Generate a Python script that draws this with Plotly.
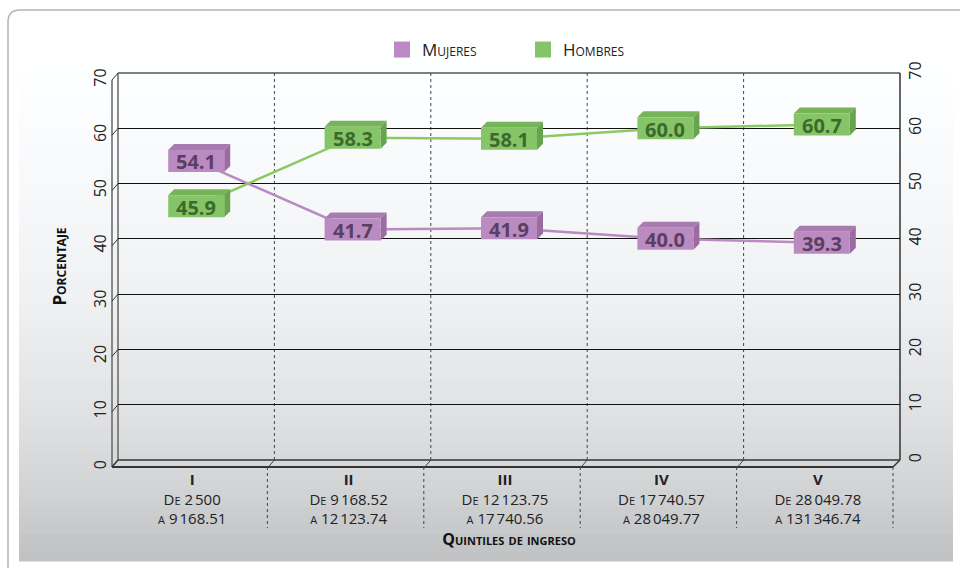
import numpy as np
import plotly.graph_objects as go

# Data
quintiles = ["I", "II", "III", "IV", "V"]
rango_de = ["2\u202f500", "9\u202f168.52", "12\u202f123.75", "17\u202f740.57", "28\u202f049.78"]
rango_a = ["9\u202f168.51", "12\u202f123.74", "17\u202f740.56", "28\u202f049.77", "131\u202f346.74"]
mujeres = [54.1, 41.7, 41.9, 40.0, 39.3]
hombres = [45.9, 58.3, 58.1, 60.0, 60.7]
y_ticks = [0, 10, 20, 30, 40, 50, 60, 70]

# Colours (face, top, side, text, line)
colors = {
    "Mujeres": dict(face="#b98bc0", top="#a97cb1", side="#9a6ca1", text="#5b3e61", line="#b98bc0"),
    "Hombres": dict(face="#86c567", top="#76b459", side="#68a44e", text="#3b6a2c", line="#8cc964"),
}

W, H = 960, 568
L, R, T, B = 118, 900, 73, 460  # back wall in pixels
FONT = "Open Sans"


def px(X):
    return (X - L) / (R - L)


def py(Y):
    return (B - Y) / (B - T)


x_idx = list(range(len(quintiles)))
ticktext = [f"<b>{q}</b><br>De {d}<br>a {a}" for q, d, a in zip(quintiles, rango_de, rango_a)]

fig = go.Figure()
for name, vals in [("Mujeres", mujeres), ("Hombres", hombres)]:
    c = colors[name]
    fig.add_trace(go.Scatter(
        x=x_idx, y=vals, mode="lines", name=name, showlegend=False,
        line=dict(color=c["line"], width=2.5), hoverinfo="skip",
    ))
    # legend entry
    fig.add_trace(go.Scatter(
        x=[None], y=[None], mode="markers", name=name,
        marker=dict(symbol="square", size=16, color=c["face"]),
    ))
# dummy trace on right axis so it renders
fig.add_trace(go.Scatter(x=[None], y=[None], yaxis="y2", showlegend=False))

shapes = []
annotations = []

# background gradient card
stops_y = [10, 60, 200, 300, 400, 480, 561]
stops_v = [255, 255, 247, 240, 227, 213, 192]
edges = np.linspace(20, 561, 61)
for y0, y1 in zip(edges[:-1], edges[1:]):
    v = int(np.interp((y0 + y1) / 2, stops_y, stops_v))
    shapes.append(dict(type="rect", xref="paper", yref="paper", layer="below",
                       x0=px(19), x1=px(953), y0=py(y0), y1=py(y1 + 0.6),
                       fillcolor=f"rgb({v},{v+1},{min(v+3,255)})", line=dict(width=0)))
# card border with rounded corner
shapes.append(dict(type="path", xref="paper", yref="paper", layer="below",
                   path=f"M {px(8)},{py(568)} L {px(8)},{py(22)} Q {px(8)},{py(10)} {px(20)},{py(10)} L {px(960)},{py(10)}",
                   line=dict(color="#b4b4b4", width=1.5)))

# 3D frame
dark = "#333333"
frame = [
    ((118, 73), (900, 73), "#555555", 1.5),
    ((900, 73), (900, 460), dark, 1.5),
    ((118, 73), (118, 460), "#666666", 1.5),
    ((112, 80), (112, 467), "#666666", 1.5),
    ((118, 460), (900, 460), dark, 1.5),
    ((112, 467), (893, 467), dark, 2),
    ((893, 467), (900, 460), dark, 1.5),
    ((112, 467), (118, 460), dark, 1.5),
]
for (xa, ya), (xb, yb), col, w in frame:
    shapes.append(dict(type="line", xref="paper", yref="paper", layer="below",
                       x0=px(xa), y0=py(ya), x1=px(xb), y1=py(yb), line=dict(color=col, width=w)))
# left wall diagonal ticks
for t in y_ticks[1:]:
    shapes.append(dict(type="line", xref="paper", yref="y", ysizemode="pixel", yanchor=t,
                       x0=px(112), x1=px(118), y0=-7, y1=0, layer="below",
                       line=dict(color=dark, width=1)))
# category separators
for k in range(len(quintiles) + 1):
    xb = k - 0.5
    if 0 < k < len(quintiles):
        shapes.append(dict(type="line", xref="x", yref="paper", x0=xb, x1=xb, y0=0, y1=1,
                           layer="below", line=dict(color="#444444", width=1, dash="dot")))
        shapes.append(dict(type="line", xref="x", yref="paper", xsizemode="pixel", xanchor=xb,
                           x0=-6, x1=0, y0=py(467), y1=0, layer="below",
                           line=dict(color="#444444", width=1)))
    shapes.append(dict(type="line", xref="x", yref="paper", xsizemode="pixel", xanchor=xb,
                       x0=-7, x1=-7, y0=py(467), y1=py(528),
                       layer="below", line=dict(color="#444444", width=1, dash="dot")))

# 3D label boxes
hw, hh, d = 28, 11, 6
for name, vals in [("Mujeres", mujeres), ("Hombres", hombres)]:
    c = colors[name]
    for i, v in enumerate(vals):
        common = dict(type="path", xref="x", yref="y", xsizemode="pixel", ysizemode="pixel",
                      xanchor=i, yanchor=v, layer="above", line=dict(width=0))
        shapes.append(dict(common, fillcolor=c["top"],
                           path=f"M {-hw},{hh} L {-hw+d},{hh+d} L {hw+d},{hh+d} L {hw},{hh} Z"))
        shapes.append(dict(common, fillcolor=c["side"],
                           path=f"M {hw},{-hh} L {hw+d},{-hh+d} L {hw+d},{hh+d} L {hw},{hh} Z"))
        shapes.append(dict(common, fillcolor=c["face"],
                           path=f"M {-hw},{-hh} L {hw},{-hh} L {hw},{hh} L {-hw},{hh} Z"))
        annotations.append(dict(x=i, y=v, xref="x", yref="y", text=f"<b>{v:.1f}</b>",
                                showarrow=False, yshift=-1,
                                font=dict(family=FONT, size=20, color=c["text"])))

axis_font = dict(family=FONT, size=16, color="#222222")

fig.update_layout(
    width=W, height=H, autosize=False,
    margin=dict(l=L, r=W - R, t=T, b=H - B),
    paper_bgcolor="white", plot_bgcolor="rgba(0,0,0,0)",
    font=dict(family=FONT, color="#222222"),
    shapes=shapes, annotations=annotations,
    legend=dict(orientation="h", x=px(382), y=py(50), xanchor="left", yanchor="middle",
                bgcolor="rgba(0,0,0,0)", entrywidth=96, entrywidthmode="pixels",
                font=dict(family=FONT, size=17, color="#222222", variant="small-caps")),
    xaxis=dict(range=[-0.5, 4.5], tickvals=x_idx, ticktext=ticktext, showgrid=False,
               zeroline=False, showline=False, ticks="", ticklabelshift=-4, ticklabelstandoff=9,
               tickfont=dict(axis_font, size=15, variant="small-caps"), fixedrange=True,
               title=dict(text="<b>Quintiles de ingreso</b>", standoff=4,
                          font=dict(family=FONT, size=16, color="#111111", variant="small-caps"))),
    yaxis=dict(range=[0, 70], tickvals=y_ticks, showgrid=True, gridcolor="#111111", gridwidth=1,
               zeroline=False, showline=False, ticks="", tickangle=-90, tickfont=axis_font,
               ticklabelshift=7, ticklabelstandoff=8,
               title=dict(text="<b>Porcentaje</b>", standoff=17,
                          font=dict(family=FONT, size=17, color="#111111", variant="small-caps"))),
    yaxis2=dict(range=[0, 70], tickvals=y_ticks, overlaying="y", side="right", showgrid=False,
                zeroline=False, showline=False, ticks="", tickangle=-90, tickfont=axis_font,
                ticklabelstandoff=4),
)

fig.write_html("out.html", config={"displayModeBar": False},
               post_script="document.body.style.margin='0';")
